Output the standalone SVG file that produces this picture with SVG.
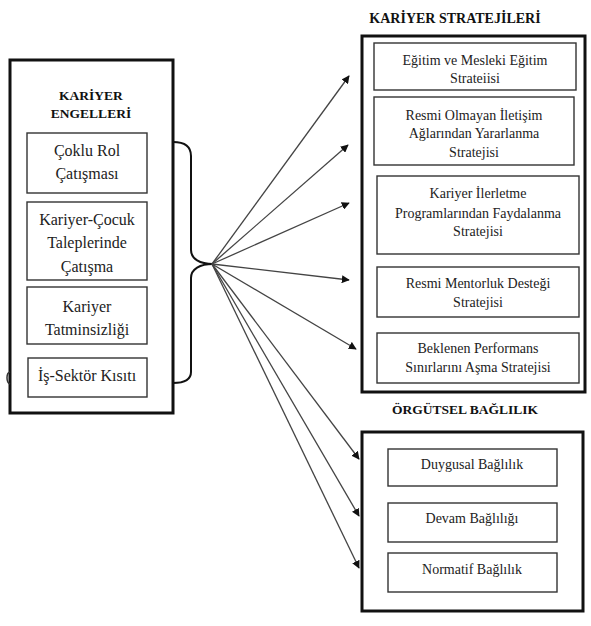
<svg xmlns="http://www.w3.org/2000/svg" width="591" height="626" viewBox="0 0 591 626">
<style>
.outer{fill:none;stroke:#111;stroke-width:3}
.inner{fill:#fff;stroke:#333;stroke-width:1.4}
.t{font-family:"Liberation Serif","Times New Roman",serif;fill:#222;text-anchor:middle}
.s{font-size:14px}
.l{font-size:16px}
.h{font-family:"Liberation Serif","Times New Roman",serif;font-weight:bold;fill:#111;font-size:13.5px;text-anchor:middle}
.arr{stroke:#444;stroke-width:1.3;fill:none;marker-end:url(#ah)}
</style>
<defs>
<marker id="ah" viewBox="0 0 10 10" refX="9" refY="5" markerWidth="8" markerHeight="8" markerUnits="userSpaceOnUse" orient="auto">
<path d="M0,0 L10,5 L0,10 z" fill="#111"/>
</marker>
</defs>
<rect width="591" height="626" fill="#fff"/>

<g id="kariyer-engelleri">
<rect class="outer" x="10" y="60" width="163" height="353"/>
<path d="M10,372 C6,373 6,382 10,384" fill="none" stroke="#333" stroke-width="1.5"/>
<text class="h" x="91" y="100">KARİYER</text>
<text class="h" x="91" y="118">ENGELLERİ</text>
</g>
<g id="coklu-rol">
<rect class="inner" x="27" y="133" width="120" height="60"/>
<text class="t l" x="87" y="156">Çoklu Rol</text>
<text class="t l" x="87" y="179">Çatışması</text>
</g>
<g id="kariyer-cocuk">
<rect class="inner" x="27" y="202" width="120" height="78"/>
<text class="t l" x="87" y="225">Kariyer-Çocuk</text>
<text class="t l" x="87" y="248">Taleplerinde</text>
<text class="t l" x="87" y="272">Çatışma</text>
</g>
<g id="kariyer-tatminsizligi">
<rect class="inner" x="27" y="287" width="120" height="57"/>
<text class="t l" x="87" y="312">Kariyer</text>
<text class="t l" x="87" y="335">Tatminsizliği</text>
</g>
<g id="is-sektor">
<rect class="inner" x="28" y="358" width="119" height="39"/>
<text class="t l" x="87" y="381">İş-Sektör Kısıtı</text>
</g>

<g id="kariyer-stratejileri">
<text class="h" x="455" y="23" style="font-size:14px">KARİYER STRATEJİLERİ</text>
<rect class="outer" x="362" y="36" width="223" height="356"/>
</g>
<g id="egitim">
<rect class="inner" x="374" y="43" width="202" height="47"/>
<text class="t s" x="475" y="65">Eğitim ve Mesleki Eğitim</text>
<text class="t s" x="475" y="83">Strateiisi</text>
</g>
<g id="resmi-olmayan">
<rect class="inner" x="374" y="97" width="200" height="68"/>
<text class="t s" x="474" y="120">Resmi Olmayan İletişim</text>
<text class="t s" x="474" y="138">Ağlarından Yararlanma</text>
<text class="t s" x="474" y="157">Stratejisi</text>
</g>
<g id="kariyer-ilerletme">
<rect class="inner" x="377" y="176" width="202" height="78"/>
<text class="t s" x="478" y="198">Kariyer İlerletme</text>
<text class="t s" x="478" y="218">Programlarından Faydalanma</text>
<text class="t s" x="478" y="236">Stratejisi</text>
</g>
<g id="resmi-mentorluk">
<rect class="inner" x="377" y="267" width="202" height="50"/>
<text class="t s" x="478" y="288">Resmi Mentorluk Desteği</text>
<text class="t s" x="478" y="307">Stratejisi</text>
</g>
<g id="beklenen-performans">
<rect class="inner" x="377" y="333" width="202" height="50"/>
<text class="t s" x="478" y="353">Beklenen Performans</text>
<text class="t s" x="478" y="372">Sınırlarını Aşma Stratejisi</text>
</g>

<g id="orgutsel-baglilik">
<text class="h" x="465" y="414">ÖRGÜTSEL BAĞLILIK</text>
<rect class="outer" x="362" y="432" width="221" height="179"/>
</g>
<g id="duygusal">
<rect class="inner" x="388" y="449" width="169" height="37"/>
<text class="t s" x="472" y="469">Duygusal Bağlılık</text>
</g>
<g id="devam">
<rect class="inner" x="388" y="503" width="169" height="39"/>
<text class="t s" x="472" y="523">Devam Bağlılığı</text>
</g>
<g id="normatif">
<rect class="inner" x="388" y="553" width="169" height="39"/>
<text class="t s" x="472" y="574">Normatif Bağlılık</text>
</g>

<g id="connectors">
<path d="M173,142 C185,142 191,146 191,156 L191,250 C191,259 200,264 213,264 C200,264 191,269 191,278 L191,372 C191,380 185,383 173,383" fill="none" stroke="#111" stroke-width="2"/>
<line class="arr" x1="212" y1="264" x2="349" y2="76"/>
<line class="arr" x1="212" y1="264" x2="348" y2="145"/>
<line class="arr" x1="212" y1="264" x2="349" y2="203"/>
<line class="arr" x1="212" y1="264" x2="349" y2="280"/>
<line class="arr" x1="212" y1="264" x2="356" y2="349"/>
<line class="arr" x1="212" y1="264" x2="359" y2="459"/>
<line class="arr" x1="212" y1="264" x2="359" y2="516"/>
<line class="arr" x1="212" y1="264" x2="359" y2="568"/>
</g>
</svg>
